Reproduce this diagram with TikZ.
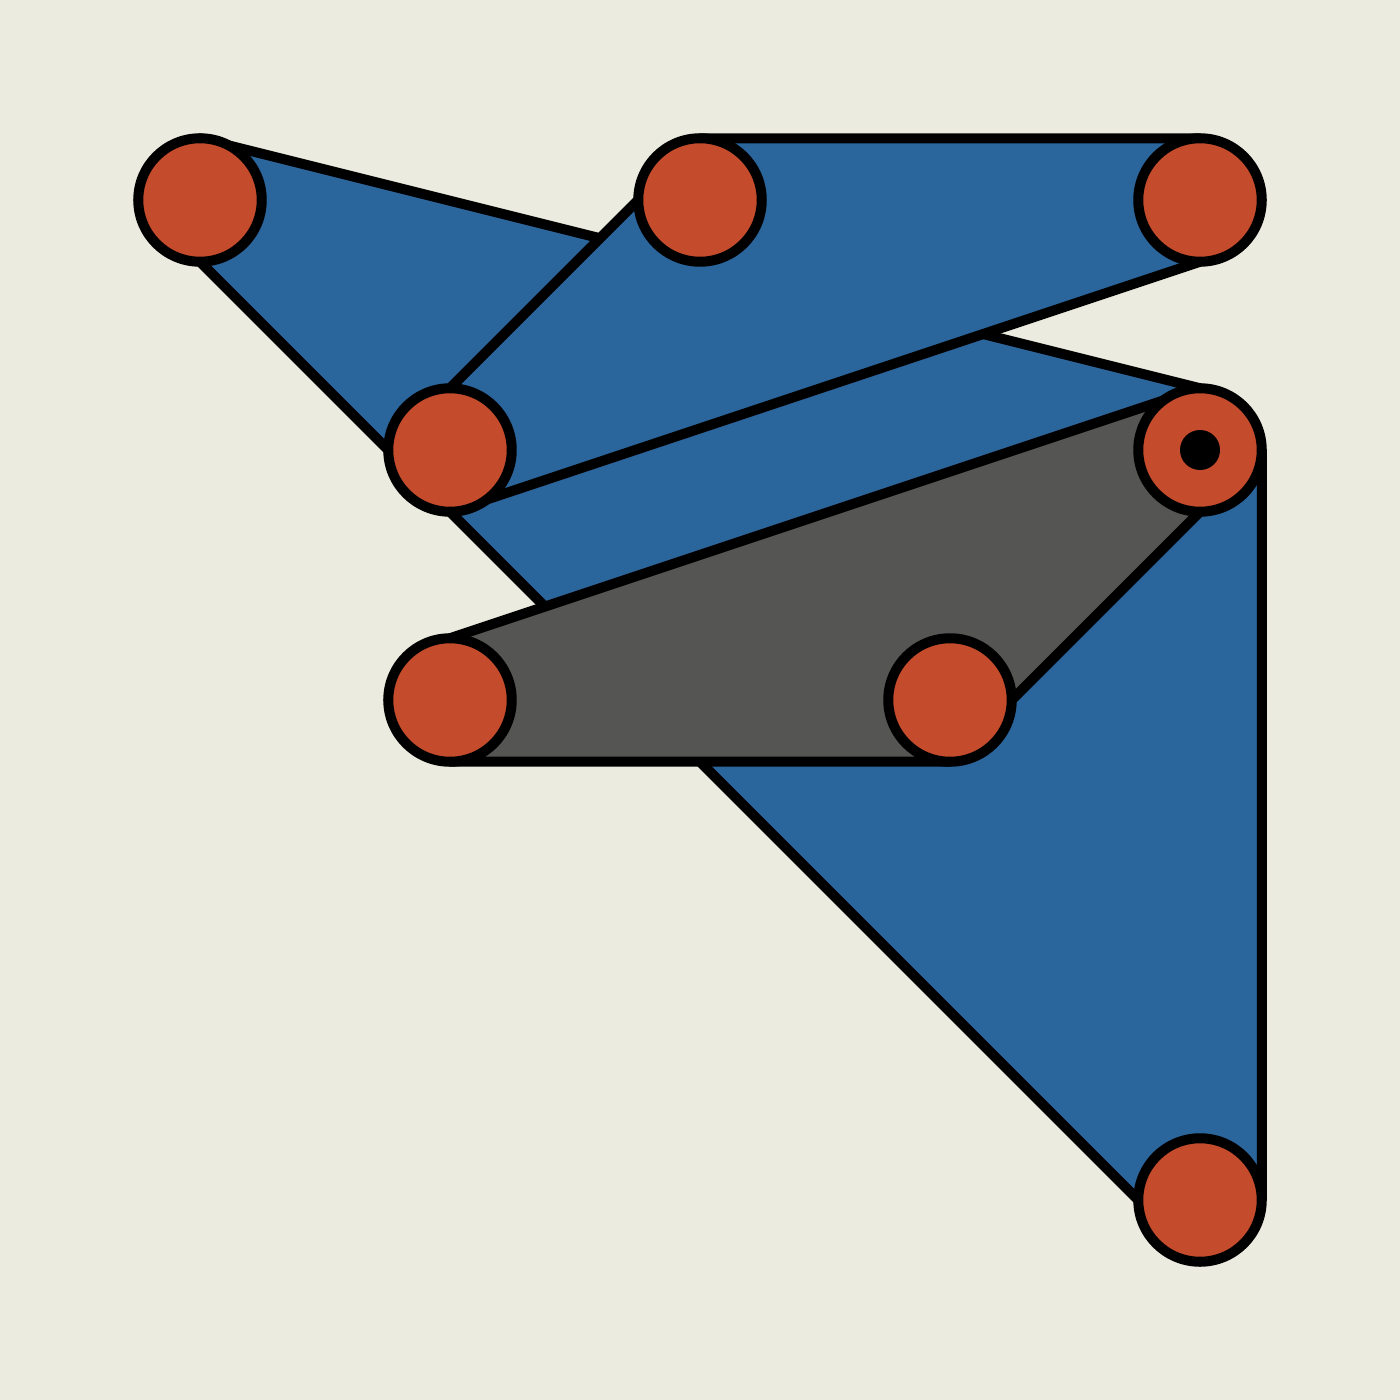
\documentclass[tikz,border=0pt]{standalone}
\usepackage{tikz}
\usetikzlibrary{calc,backgrounds}
\definecolor{paper}{HTML}{EBEBE0}
\definecolor{pinred}{HTML}{C44B2C}
\definecolor{barblue}{HTML}{2A659C}
\definecolor{bargrey}{HTML}{555553}

\begin{document}
\begin{tikzpicture}[x=0.01cm,y=-0.01cm]
                      \tikzstyle{pin}=[circle,line width=1mm,draw=black,fill=pinred,inner sep=0pt,outer sep=0pt,minimum size=12.34mm]
                      \tikzstyle{bar}=[line width=1mm,draw=black,line join=round]
                      \node[pin] (a) at (200,200) {};
                      \node[pin] (b) at (700,200) {};
                      \node[pin] (c) at (1200,200) {};
                      \node[pin] (d) at (450,450) {};
                      \node[pin] (e) at (1200,450) {};
                      \node[pin] (f) at (450,700) {};
                      \node[pin] (g) at (950,700) {};
                      \node[pin] (h) at (1200,1200) {};
                      \fill[black] (e.center) circle (20);
                      \begin{pgfonlayer}{background}
                      \fill[paper] (0,0) rectangle (1400,1400);
                      \draw[bar,fill=barblue] (a.north) -- (e.north) -- (e.east) -- (h.east) -- (h.south) -- (h.west) -- (a.south) -- (a.west) -- cycle;
                      \draw[bar,fill=barblue] (b.north) -- (c.north) -- (c.east) -- (c.south) -- (d.south) -- (d.west) -- (d.north) -- (b.west) -- cycle;
                      \draw[bar,fill=bargrey] (e.north) -- (f.north) -- (f.west) -- (f.south) -- (g.south) -- (g.east) -- (e.south) -- cycle;
                      \end{pgfonlayer}
                  \end{tikzpicture}
\end{document}
